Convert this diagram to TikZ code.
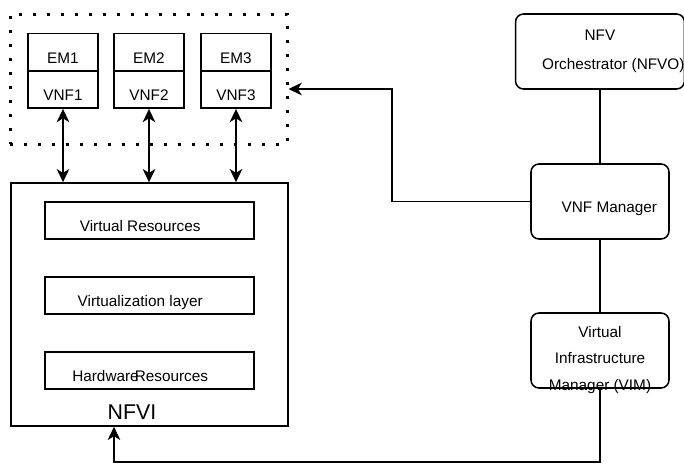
\documentclass[tikz,border=0pt]{standalone}
\usepackage{fontspec}
\setmainfont{Liberation Sans}
\usetikzlibrary{arrows.meta}
\begin{document}
\begin{tikzpicture}[x=0.75pt,y=-0.75pt,line width=1.15pt,
    font=\fontsize{11.5}{13}\selectfont,
    low/.style={text height=17pt,text depth=0pt},
    box/.style={draw,low,minimum width=52.5pt,minimum height=28pt,inner sep=0pt},
    layer/.style={draw,low,minimum width=156.75pt,minimum height=27.75pt,inner sep=0pt},
    mano/.style={draw,rounded corners=6pt,minimum width=103.5pt,minimum height=56.25pt,inner sep=0pt,align=center},
    tip/.tip={Stealth[length=10pt,width=9.5pt,inset=3pt]},
    arr/.style={-tip},
    dbl/.style={tip-tip}]
    \useasboundingbox (0,0) rectangle (684,464);
    \node[draw,line width=2.25pt,dash pattern=on 2.25pt off 8.25pt,minimum width=207.75pt,minimum height=97.5pt] (vnfs) at (148.5,79) {};
    \node[box] (em1) at (63,52) {EM1};
    \node[box] (vnf1) at (63,89.5) {VNF1};
    \node[box] (em2) at (149,52) {EM2};
    \node[box] (vnf2) at (149,89.5) {VNF2};
    \node[box] (em3) at (236,52) {EM3};
    \node[box] (vnf3) at (236,89.5) {VNF3};
    \node[draw,minimum width=207.75pt,minimum height=182.25pt] (nfvi) at (149.5,304.5) {};
    \node[layer] (vr) at (149.5,220.5) {\hspace*{-14pt}Virtual Resources};
    \node[layer] (vl) at (149.5,295.5) {\hspace*{-14pt}Virtualization layer};
    \node[layer] (hr) at (149.5,370.5) {\hspace*{-14pt}Hardware\kern-3pt Resources};
    \node[font=\fontsize{16}{18}\selectfont] (nfvilabel) at (132,412) {NFVI};
    \node[mano] (nfvo) at (600,51.5) {NFV\\[9pt]\hspace*{20pt}Orchestrator (NFVO)};
    \node[mano,low] (vnfm) at (600,201.5) {\hspace*{14pt}VNF Manager};
    \node[mano] (vim) at (600,350.5) {\\[-2pt]Virtual\\[7pt]Infrastructure\\[7pt]Manager (VIM)\\[-22pt]};
    \coordinate (bend) at (392,89);
    \coordinate (floor) at (114,462);
    \draw[dbl] (vnf1.south) -- (vnf1.south |- nfvi.north);
    \draw[dbl] (vnf2.south) -- (vnf2.south |- nfvi.north);
    \draw[dbl] (vnf3.south) -- (vnf3.south |- nfvi.north);
    \draw (nfvo.south) -- (vnfm.north);
    \draw (vnfm.south) -- (vim.north);
    \draw[arr] (vnfm.west) -| (bend) -- (bend -| vnfs.east);
    \draw[arr] (vim.south) |- (floor) -- (floor |- nfvi.south);
\end{tikzpicture}
\end{document}
